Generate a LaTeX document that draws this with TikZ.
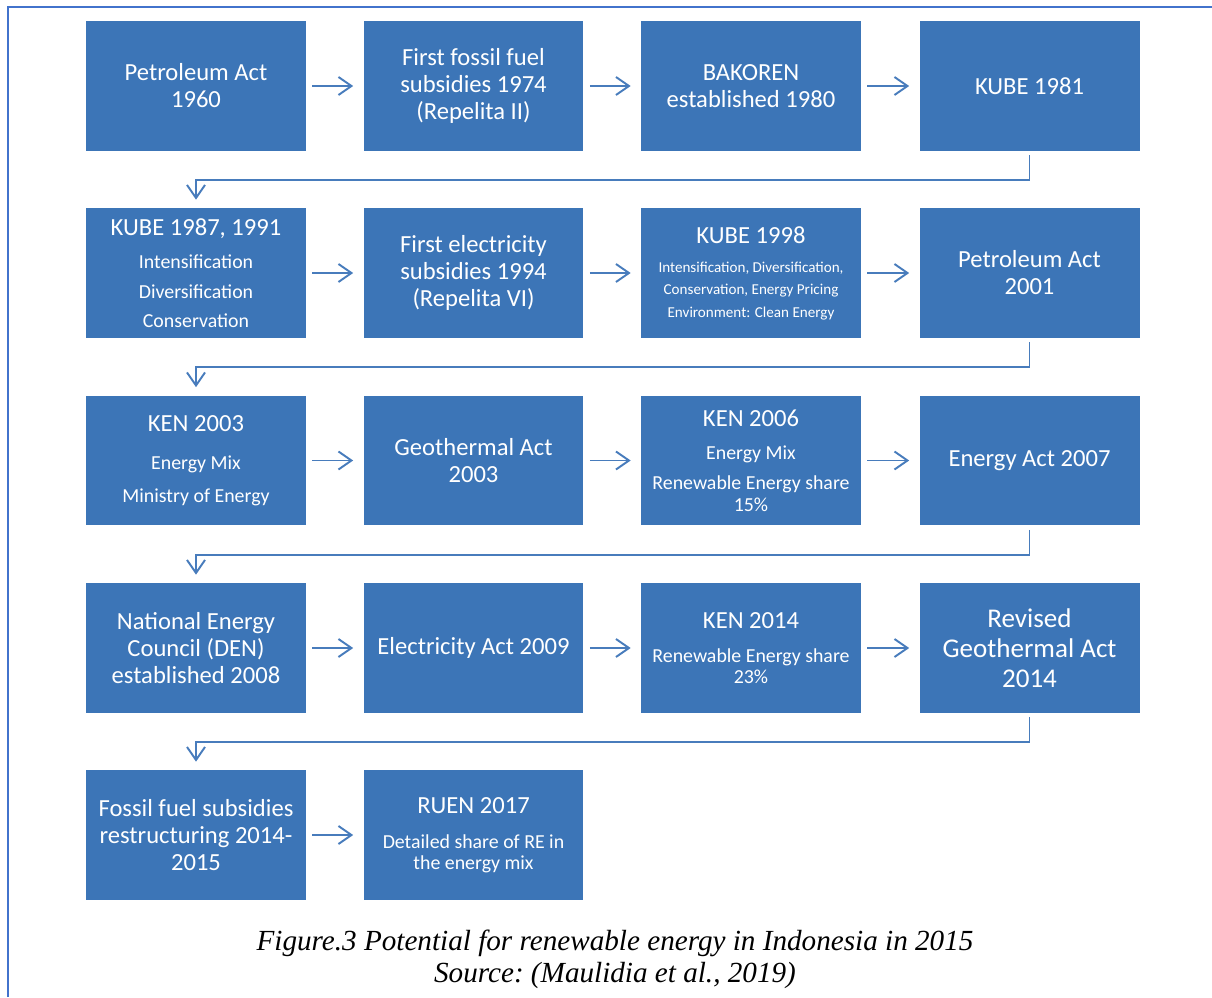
\documentclass[tikz,border=0pt]{standalone}
\usepackage{fontspec}
\setmainfont{Carlito}
\newfontfamily\capfont{Liberation Serif}
\usetikzlibrary{arrows.meta}

\definecolor{boxblue}{RGB}{60,117,183}
\definecolor{lineblue}{RGB}{72,124,188}
\definecolor{frameblue}{RGB}{66,115,204}

\newcommand{\headfont}{\fontsize{14}{15.4}\selectfont}
\newcommand{\itemfont}{\fontsize{11.3}{12}\selectfont}
\newcommand{\notefont}{\fontsize{8.6}{12.8}\selectfont}

\begin{document}
\begin{tikzpicture}[
        x=0.02cm, y=-0.02cm,
        font=\headfont,
        >={Straight Barb[length=2.6mm,width=3.6mm]},
        stage/.style={
            rectangle,
            fill=boxblue,
            text=white,
            minimum width=4.4cm,
            minimum height=2.6cm,
            inner sep=1pt,
            align=center
        },
        flow/.style={->, draw=lineblue, line width=1.1pt,
            shorten <=0.12cm, shorten >=0.2cm},
        turn/.style={->, draw=lineblue, line width=1.1pt,
            shorten <=0.08cm, shorten >=0.16cm},
        caption/.style={align=center, font=\capfont\itshape\fontsize{16.6}{18.2}\selectfont\frenchspacing},
    ]

        \useasboundingbox (0,0) rectangle (1212,997);

        \def\colA{196}
        \def\colB{473.5}
        \def\colC{751}
        \def\colD{1029.5}
        \def\rowA{86}
        \def\rowB{273}
        \def\rowC{460.5}
        \def\rowD{648}
        \def\rowE{835}

        % frame
        \draw[frameblue, line width=1.4pt] (8,997) -- (8,7) -- (1212,7);

        % row 1
        \node[stage] (pa60) at (\colA,\rowA) {Petroleum Act\\1960};
        \node[stage] (sub74) at (\colB,\rowA) {First fossil fuel\\subsidies 1974\\(Repelita II)};
        \node[stage] (bakoren) at (\colC,\rowA) {BAKOREN\\established 1980};
        \node[stage] (kube81) at (\colD,\rowA) {KUBE 1981};

        % row 2
        \node[stage] (kube87) at (\colA,\rowB)
            {KUBE 1987, 1991\\[3.7pt]\itemfont Intensification\\[1.7pt]\itemfont Diversification\\[1.1pt]\itemfont Conservation};
        \node[stage] (sub94) at (\colB,\rowB) {First electricity\\subsidies 1994\\(Repelita VI)};
        \node[stage] (kube98) at (\colC,\rowB)
            {KUBE 1998\\[1.1pt]\notefont Intensification, Diversification,\\[-2.8pt]\notefont Conservation, Energy Pricing\\[-2.3pt]\notefont Environment: Clean Energy};
        \node[stage] (pa01) at (\colD,\rowB) {Petroleum Act\\2001};

        % row 3
        \node[stage] (ken03) at (\colA,\rowC)
            {KEN 2003\\[6pt]\itemfont Energy Mix\\[3.4pt]\itemfont Ministry of Energy};
        \node[stage] (geo03) at (\colB,\rowC) {Geothermal Act\\2003};
        \node[stage] (ken06) at (\colC,\rowC)
            {KEN 2006\\[3.7pt]\itemfont Energy Mix\\[1.7pt]\itemfont Renewable Energy share\\[-3.4pt]\itemfont 15\%};
        \node[stage] (ea07) at (\colD,\rowC) {Energy Act 2007};

        % row 4
        \node[stage] (den08) at (\colA,\rowD) {National Energy\\Council (DEN)\\established 2008};
        \node[stage] (el09) at (\colB,\rowD) {Electricity Act 2009};
        \node[stage] (ken14) at (\colC,\rowD)
            {KEN 2014\\[4.3pt]\itemfont Renewable Energy share\\[-3.4pt]\itemfont 23\%};
        \node[stage, font=\fontsize{15.4}{17}\selectfont] (geo14) at (\colD,\rowD)
            {Revised\\Geothermal Act\\2014};

        % row 5
        \node[stage] (ffs15) at (\colA,\rowE) {Fossil fuel subsidies\\restructuring 2014-\\2015};
        \node[stage] (ruen17) at (\colB,\rowE)
            {RUEN 2017\\[4.3pt]\itemfont Detailed share of RE in\\[-3.4pt]\itemfont the energy mix};

        % arrows along the rows
        \foreach \a/\b in {pa60/sub74, sub74/bakoren, bakoren/kube81,
            kube87/sub94, sub94/kube98, kube98/pa01,
            ken03/geo03, geo03/ken06, ken06/ea07,
            den08/el09, el09/ken14, ken14/geo14,
            ffs15/ruen17}{
            \draw[flow] (\a) -- (\b);
        }

        % turns to the next row
        \foreach \a/\b in {kube81/kube87, pa01/ken03, ea07/den08, geo14/ffs15}{
            \draw[turn] (\a.south) -- ++(0,29) -| (\b.north);
        }

        \node[caption] (cap) at (615,959)
            {Figure.3 Potential for renewable energy in Indonesia in 2015\\Source: (Maulidia et al., 2019)};

    \end{tikzpicture}
\end{document}
